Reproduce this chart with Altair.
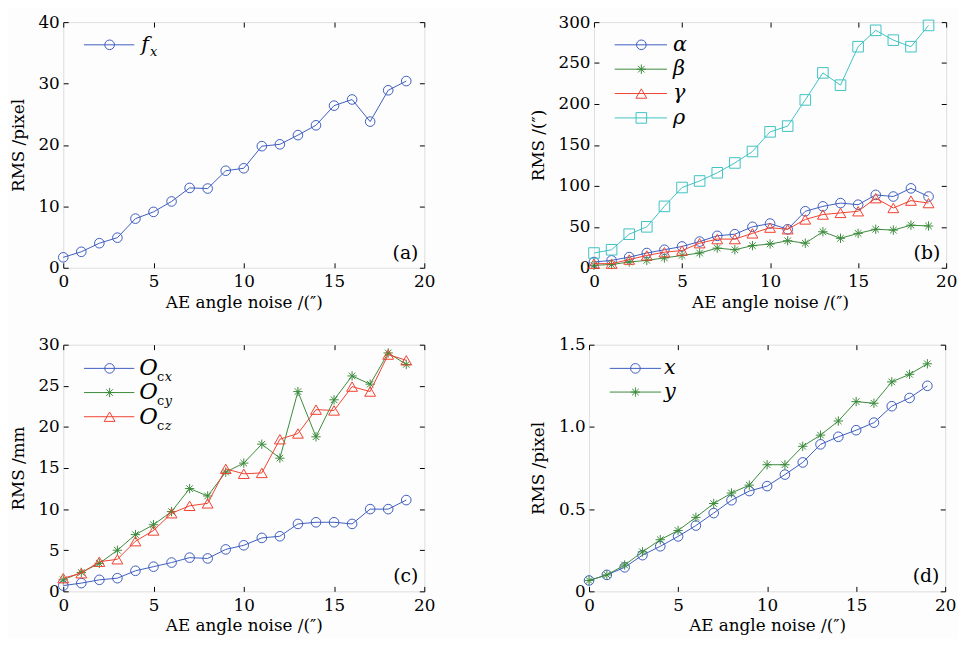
import altair as alt
import pandas as pd

noise = list(range(20))

# panel (a)
fx = [1.7, 2.6, 4.0, 4.9, 8.0, 9.1, 10.8, 13.0, 12.9, 15.8, 16.2, 19.8, 20.1, 21.6, 23.2, 26.4, 27.4, 23.8, 28.9, 30.4]
# panel (b)
alpha = [7, 9, 13, 18, 22, 26, 32, 39, 41, 50, 54, 47, 69, 75, 79, 77, 89, 87, 97, 87]
beta = [3, 4, 7, 9, 12, 15, 18, 24, 22, 27, 29, 33, 30, 44, 36, 42, 47, 46, 52, 51]
gamma = [5, 5, 10, 15, 19, 21, 30, 35, 35, 42, 49, 47, 59, 65, 67, 69, 85, 73, 82, 79]
rho = [18, 22, 41, 50, 75, 98, 106, 116, 128, 142, 166, 173, 205, 238, 223, 270, 290, 278, 270, 296]
# panel (c)
ocx = [0.7, 1.0, 1.4, 1.6, 2.5, 3.0, 3.5, 4.1, 4.0, 5.1, 5.6, 6.5, 6.7, 8.2, 8.4, 8.4, 8.2, 10.0, 10.0, 11.1]
ocy = [1.4, 2.3, 3.4, 5.0, 6.9, 8.1, 9.7, 12.5, 11.6, 14.5, 15.6, 17.9, 16.2, 24.3, 18.8, 23.3, 26.2, 25.2, 29.0, 27.6]
ocz = [1.6, 2.2, 3.6, 3.9, 6.1, 7.4, 9.5, 10.4, 10.7, 14.9, 14.3, 14.4, 18.5, 19.2, 22.1, 22.0, 24.9, 24.3, 28.8, 28.1]
# panel (d)
px = [0.066, 0.10, 0.146, 0.22, 0.274, 0.334, 0.40, 0.476, 0.554, 0.61, 0.64, 0.71, 0.784, 0.894, 0.94, 0.98, 1.026, 1.126, 1.176, 1.25]
py = [0.066, 0.10, 0.16, 0.24, 0.314, 0.37, 0.45, 0.534, 0.598, 0.646, 0.77, 0.77, 0.882, 0.95, 1.036, 1.154, 1.144, 1.274, 1.32, 1.384]

x_ticks = [0, 5, 10, 15, 20]
x_title = "AE angle noise /(\u2033)"

BLUE = "#3d5cbf"
GREEN = "#3b8a3b"
RED = "#f0402f"
CYAN = "#3fc2c2"

FONT = "DejaVu Serif"
STAR = "M0,-1L0,1M-1,0L1,0M-0.7,-0.7L0.7,0.7M-0.7,0.7L0.7,-0.7"

ONE = alt.Data(values=[{}])


def legend_layers(rows, x0, x1, xm, xt, y0, dy):
    layers = []
    for i, (color, shape, size, main, sub) in enumerate(rows):
        y = y0 + i * dy
        layers.append(alt.Chart(ONE).mark_rule(color=color, strokeWidth=1).encode(
            x=alt.value(x0), x2=alt.value(x1), y=alt.value(y)))
        layers.append(alt.Chart(ONE).mark_point(shape=shape, filled=False, color=color,
                                                size=size, strokeWidth=1, opacity=1).encode(
            x=alt.value(xm), y=alt.value(y)))
        layers.append(alt.Chart(ONE).mark_text(align="left", baseline="middle", font=FONT,
                                               fontSize=main[1], fontStyle="italic", color="black").encode(
            x=alt.value(xt), y=alt.value(y), text=alt.value(main[0])))
        for s_text, s_dx, s_dy, s_style in sub:
            layers.append(alt.Chart(ONE).mark_text(align="left", baseline="middle", font=FONT,
                                                   fontSize=13, fontStyle=s_style, color="black").encode(
                x=alt.value(xt + s_dx), y=alt.value(y + s_dy), text=alt.value(s_text)))
    return layers


def panel(series, ymax, ystep, ytitle, ylabel_expr, legend, tag, width, height):
    recs = []
    for n, vals, _c, _s, _z in series:
        for xv, yv in zip(noise, vals):
            recs.append({"noise": xv, "value": yv, "series": n})
    df = pd.DataFrame(recs)
    yvals = [round(i * ystep, 6) for i in range(int(round(ymax / ystep)) + 1)]
    xs = alt.Scale(domain=[0, 20], nice=False, zero=False)
    ys = alt.Scale(domain=[0, ymax], nice=False)

    main_x = alt.Axis(orient="bottom", values=x_ticks, tickSize=0, domain=False, grid=False,
                      labelFont=FONT, labelFontSize=17, labelColor="black", labelPadding=6,
                      labelFlush=False,
                      title=x_title, titleFont=FONT, titleFontSize=17, titleFontWeight="normal",
                      titleColor="black", titlePadding=5)
    main_y = alt.Axis(orient="left", values=yvals, tickSize=0, domain=False, grid=False,
                      labelFont=FONT, labelFontSize=17, labelColor="black", labelPadding=4,
                      labelExpr=ylabel_expr, labelFlush=False,
                      title=ytitle, titleFont=FONT, titleFontSize=17, titleFontWeight="normal",
                      titleColor="black", titlePadding=11)

    def inner(orient, vals):
        return alt.Axis(orient=orient, values=vals, offset=-5, tickSize=5, tickColor="black",
                        tickWidth=1, labels=False, domain=False, grid=False, title=None)

    def ghost(ax_x, ax_y):
        return alt.Chart(df).mark_point(opacity=0).encode(
            x=alt.X("noise:Q", scale=xs, axis=ax_x),
            y=alt.Y("value:Q", scale=ys, axis=ax_y),
        )

    layers = [ghost(main_x, main_y), ghost(inner("top", x_ticks), inner("right", yvals)),
              ghost(inner("bottom", x_ticks), inner("left", yvals))]
    for n, vals, c, s, z in series:
        sub = alt.Chart(df).transform_filter(alt.datum.series == n)
        layers.append(sub.mark_line(strokeWidth=1, color=c).encode(
            x=alt.X("noise:Q", scale=xs, axis=None),
            y=alt.Y("value:Q", scale=ys, axis=None)))
        layers.append(sub.mark_point(shape=s, filled=False, color=c, size=z, strokeWidth=1,
                                     opacity=1).encode(
            x=alt.X("noise:Q", scale=xs, axis=None),
            y=alt.Y("value:Q", scale=ys, axis=None)))
    tag_text = alt.Chart(ONE).mark_text(align="right", baseline="middle", font=FONT, fontSize=19,
                                        color="black").encode(
        x=alt.value(width - 6), y=alt.value(height - 15), text=alt.value(tag))
    layers = layers + [tag_text] + legend
    return alt.layer(*layers).resolve_axis(x="independent", y="independent").properties(
        width=width, height=height)


int_expr = "format(datum.value, 'd')"
dec_expr = "datum.value == 0 ? '0' : format(datum.value, '.1f')"

pa = panel([("fx", fx, BLUE, "circle", 95)], 40, 10, "RMS /pixel", int_expr,
           legend_layers([(BLUE, "circle", 95, ("f", 21), [("x", 9, 7, "italic")])],
                         21, 72, 47, 79, 23, 25),
           "(a)", 366, 249)

pb = panel([("alpha", alpha, BLUE, "circle", 95), ("beta", beta, GREEN, STAR, 90),
            ("gamma", gamma, RED, "triangle-up", 120), ("rho", rho, CYAN, "square", 115)],
           300, 50, "RMS /(\u2033)", int_expr,
           legend_layers([(BLUE, "circle", 95, ("\u03b1", 21), []),
                          (GREEN, STAR, 90, ("\u03b2", 21), []),
                          (RED, "triangle-up", 120, ("\u03b3", 21), []),
                          (CYAN, "square", 115, ("\u03c1", 21), [])],
                         21, 74, 48, 80, 23, 24.7),
           "(b)", 357, 249)

pc = panel([("ocx", ocx, BLUE, "circle", 95), ("ocy", ocy, GREEN, STAR, 90),
            ("ocz", ocz, RED, "triangle-up", 120)],
           30, 5, "RMS /mm", int_expr,
           legend_layers([(BLUE, "circle", 95, ("O", 23), [("c", 18, 9, "normal"), ("x", 26, 9, "italic")]),
                          (GREEN, STAR, 90, ("O", 23), [("c", 18, 9, "normal"), ("y", 26, 9, "italic")]),
                          (RED, "triangle-up", 120, ("O", 23), [("c", 18, 9, "normal"), ("z", 26, 9, "italic")])],
                         21, 72, 47, 77, 24, 24.5),
           "(c)", 366, 250)

pd_ = panel([("x", px, BLUE, "circle", 95), ("y", py, GREEN, STAR, 90)],
            1.5, 0.5, "RMS /pixel", dec_expr,
            legend_layers([(BLUE, "circle", 95, ("x", 21), []),
                           (GREEN, STAR, 90, ("y", 21), [])],
                          21, 73, 47, 76, 24, 24),
            "(d)", 361, 250)

chart = alt.vconcat(
    alt.hconcat(pa, pb, spacing=94),
    alt.hconcat(pc, pd_, spacing=94),
    spacing=24,
).properties(padding=0).configure_view(stroke="black", strokeWidth=1).configure(background="#fdfdfd")

chart.save("out.html", embed_options={"renderer": "svg", "actions": False})
